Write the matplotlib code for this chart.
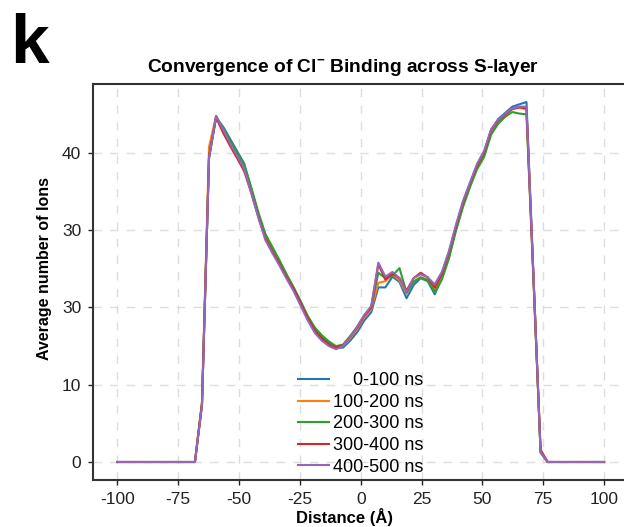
import numpy as np
import matplotlib
matplotlib.use("Agg")
import matplotlib.pyplot as plt

plt.rcParams['font.family'] = ['Liberation Sans', 'DejaVu Sans']
plt.rcParams['axes.unicode_minus'] = False
plt.rcParams['mathtext.fontset'] = 'custom'
plt.rcParams['mathtext.bf'] = 'Liberation Sans:bold'
plt.rcParams['mathtext.rm'] = 'Liberation Sans'

# distance grid across the S-layer (Å)
distance = np.linspace(-100, 100, 70)

labels = ['    0-100 ns', '100-200 ns', '200-300 ns', '300-400 ns', '400-500 ns']
colors = ['#1f77b4', '#ff7f0e', '#2ca02c', '#d62728', '#9467bd']

ions_0_100 = [0, 0, 0, 0, 0, 0, 0, 0, 0, 0, 0, 0,
              7.4, 39.3, 44.6, 43.4, 41.8, 40.2, 38.6, 35.3, 32.0, 29.2,
              27.5, 25.9, 24.1, 22.5, 20.6, 18.7, 17.1, 16.1, 15.4, 14.8,
              14.8, 15.7, 16.8, 18.3, 19.4, 22.6, 22.6, 24.0, 23.3, 21.2,
              22.9, 23.8, 23.4, 21.7, 23.8, 26.6, 30.2, 33.4, 36.0, 38.4,
              40.1, 43.0, 44.4, 45.2, 46.0, 46.3, 46.6, 24.0, 1.2,
              0, 0, 0, 0, 0, 0, 0, 0, 0]
ions_100_200 = [0, 0, 0, 0, 0, 0, 0, 0, 0, 0, 0, 0,
                7.8, 40.8, 44.8, 43.1, 41.4, 39.8, 38.0, 35.0, 31.9, 29.0,
                27.3, 25.7, 24.0, 22.3, 20.4, 18.5, 16.9, 15.9, 15.2, 14.8,
                15.0, 16.0, 17.2, 18.7, 19.8, 23.2, 23.4, 24.3, 23.5, 21.8,
                23.4, 23.9, 23.6, 22.3, 24.0, 26.8, 30.2, 33.4, 35.9, 38.2,
                39.9, 42.8, 44.1, 44.9, 45.7, 45.9, 45.6, 23.6, 1.5,
                0, 0, 0, 0, 0, 0, 0, 0, 0]
ions_200_300 = [0, 0, 0, 0, 0, 0, 0, 0, 0, 0, 0, 0,
                7.5, 39.5, 44.7, 43.2, 41.6, 40.0, 38.4, 35.5, 32.3, 29.5,
                27.8, 26.1, 24.3, 22.6, 20.8, 18.9, 17.4, 16.4, 15.6, 15.0,
                15.2, 16.3, 17.5, 19.0, 20.1, 24.5, 23.8, 24.1, 25.1, 21.9,
                23.3, 23.9, 23.5, 22.0, 23.6, 26.3, 29.9, 33.0, 35.6, 37.9,
                39.5, 42.4, 43.8, 44.7, 45.3, 45.1, 45.0, 23.4, 1.3,
                0, 0, 0, 0, 0, 0, 0, 0, 0]
ions_300_400 = [0, 0, 0, 0, 0, 0, 0, 0, 0, 0, 0, 0,
                7.6, 39.6, 44.6, 42.6, 40.9, 39.3, 37.6, 34.8, 31.7, 28.9,
                27.2, 25.6, 23.9, 22.4, 20.5, 18.6, 17.0, 16.0, 15.2, 14.8,
                15.1, 16.2, 17.4, 18.9, 20.0, 25.6, 23.6, 24.4, 23.8, 22.2,
                23.8, 24.5, 23.9, 22.6, 24.3, 27.1, 30.5, 33.6, 36.1, 38.4,
                40.1, 43.0, 44.2, 45.0, 45.7, 45.9, 45.8, 23.7, 1.6,
                0, 0, 0, 0, 0, 0, 0, 0, 0]
ions_400_500 = [0, 0, 0, 0, 0, 0, 0, 0, 0, 0, 0, 0,
                7.3, 39.4, 44.8, 43.0, 41.2, 39.6, 37.9, 34.8, 31.6, 28.7,
                27.0, 25.4, 23.7, 22.1, 20.2, 18.3, 16.7, 15.7, 15.0, 14.6,
                15.0, 16.2, 17.5, 19.0, 20.2, 25.8, 24.0, 24.6, 23.8, 22.0,
                23.8, 24.3, 23.9, 23.0, 24.6, 27.3, 30.7, 33.8, 36.2, 38.6,
                40.3, 43.1, 44.3, 45.1, 45.8, 46.0, 46.0, 23.9, 1.3,
                0, 0, 0, 0, 0, 0, 0, 0, 0]

series = [ions_0_100, ions_100_200, ions_200_300, ions_300_400, ions_400_500]

xticks = [-100, -75, -50, -25, 0, 25, 50, 75, 100]
yticks = [0, 10, 20, 30, 40]
ytick_labels = ['0', '10', '30', '30', '40']

fig = plt.figure(figsize=(6.24, 5.27), dpi=100)
ax = fig.add_axes([93 / 624, 47 / 527, 535.4 / 624, 396 / 527])

for vals, lab, col in zip(series, labels, colors):
    ax.plot(distance, vals, color=col, lw=1.5, label=lab)

ax.set_xticks(xticks)
ax.set_yticks(yticks)
ax.set_yticklabels(ytick_labels)
ax.tick_params(labelsize=12.5, length=3.5, width=1, pad=5, colors='#222222')
ax.grid(True, color='#dddddd', lw=1, linestyle=(0, (6, 6)))
ax.set_axisbelow(True)
for sp in ax.spines.values():
    sp.set_linewidth(1.5)
    sp.set_color('#333333')

ax.legend(loc='lower center', frameon=False, fontsize=13, handlelength=1.7,
          handletextpad=0.2, labelspacing=0.25, borderaxespad=0.2,
          bbox_to_anchor=(0.5, -0.016))

fig.text(343 / 624, 1 - 68 / 527,
         r'Convergence of Cl$^{\mathbf{-}}$ Binding across S-layer',
         ha='center', va='center', fontsize=13.8, fontweight='bold')
fig.text(345 / 624, 1 - 517 / 527, 'Distance (Å)', ha='center', va='center',
         fontsize=12, fontweight='bold')
fig.text(44.5 / 624, 1 - 268 / 527, 'Average number of Ions', ha='center',
         va='center', rotation=90, fontsize=11.5, fontweight='bold')
fig.text(10 / 624, 1 - 63 / 527, 'k', ha='left', va='baseline', fontsize=50,
         fontweight='bold')

fig.savefig('out.png', dpi=100)
